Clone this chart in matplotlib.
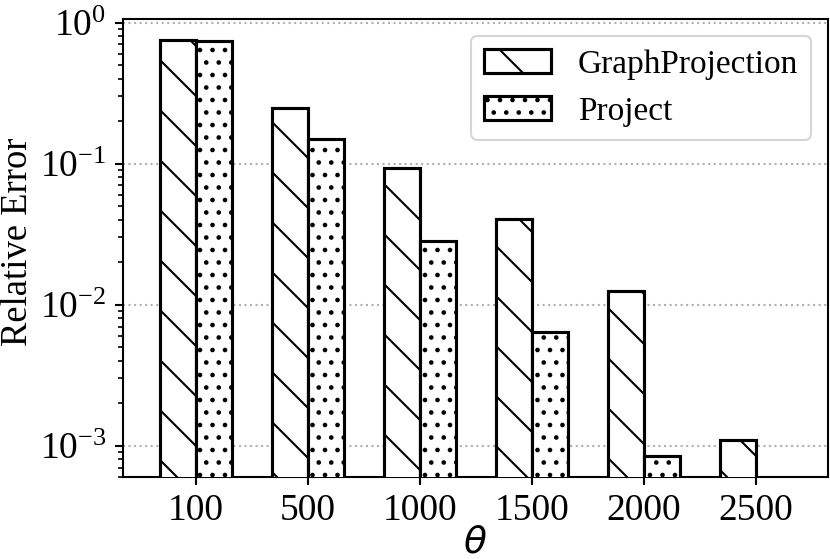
import matplotlib
matplotlib.use("Agg")
import matplotlib.pyplot as plt
import numpy as np

thetas = ["100", "500", "1000", "1500", "2000", "2500"]
graph_projection = [0.75, 0.247, 0.0925, 0.0406, 0.01256, 0.0011]
project = [0.745, 0.150, 0.0281, 0.0064, 0.00084, np.nan]  # no bar for 2500

plt.rcParams['font.family'] = ['Liberation Serif', 'DejaVu Serif']
plt.rcParams['hatch.linewidth'] = 0.5
plt.rcParams['axes.linewidth'] = 0.5

fig = plt.figure(figsize=(830 / 300, 559 / 300), dpi=300)
ax = fig.add_axes([123 / 830, 1 - 477 / 559, 705 / 830, 458 / 559])

x = np.arange(len(thetas))
w = 0.32
ax.bar(x - w / 2, graph_projection, w, color='white', edgecolor='black',
       linewidth=0.75, hatch='\\\\', label='GraphProjection', zorder=3)
ax.bar(x + w / 2, project, w, color='white', edgecolor='black',
       linewidth=0.75, hatch='....', label='Project', zorder=3)

ax.set_yscale('log')
ax.set_ylim(6.0e-4, 1.06)
ax.set_xlim(-0.652, 5.643)
ax.set_xticks(x)
ax.set_xticklabels(thetas)
ax.tick_params(axis='both', which='major', labelsize=9, width=0.5, length=2, pad=2)
ax.tick_params(axis='y', which='minor', width=0.4, length=1.2)
ax.grid(axis='y', which='major', linestyle=':', color='#b0b0b0', linewidth=0.5, zorder=0)

ax.set_ylabel('Relative Error', fontsize=8.8)
ax.yaxis.set_label_coords(-0.125, 0.514)
ax.set_xlabel(r'$\theta$', fontsize=9)
ax.xaxis.set_label_coords(0.5, -0.107)

leg = ax.legend(loc='upper right', fontsize=8, frameon=True, borderaxespad=0.5)
leg.get_frame().set_linewidth(0.5)

fig.savefig('out.png', dpi=300)
